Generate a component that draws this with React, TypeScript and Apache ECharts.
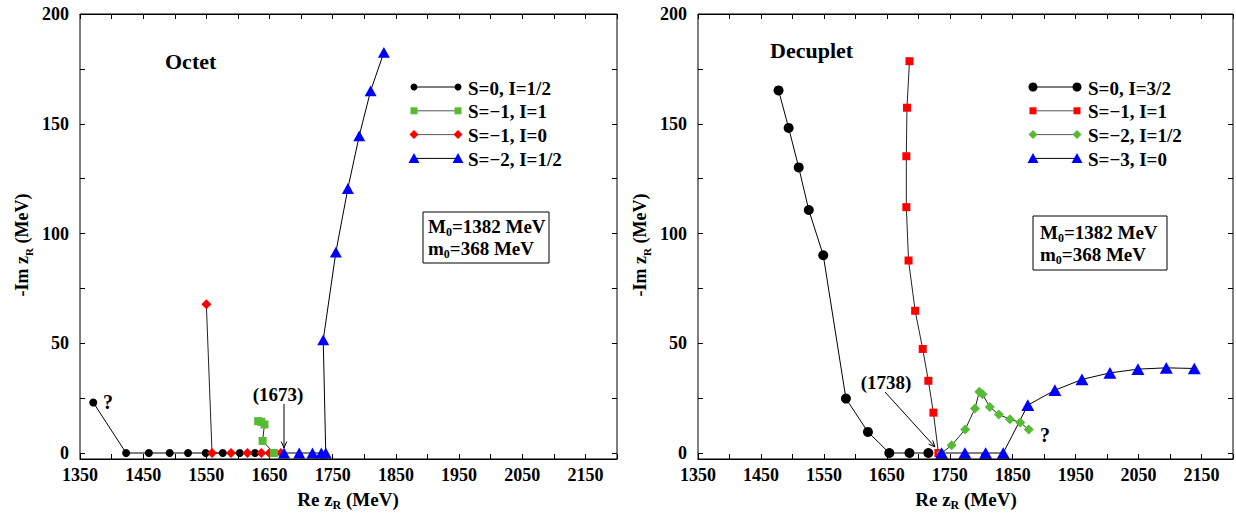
import React, { useEffect, useRef } from "react";
import * as echarts from "echarts";

const FONT = '"Liberation Serif", "Times New Roman", Times, serif';
const GREEN = "#55bb33";
const RED = "#ff0000";
const BLUE = "#0000ff";

const X_MIN = 1350;
const X_MAX = 2200;
const Y_MIN = 0;
const Y_MAX = 200;

// ---- Octet (left) ----
const octLabels = ["S=0, I=1/2", "S=\u22121, I=1", "S=\u22121, I=0", "S=\u22122, I=1/2"];
const octS0I12 = [[1371, 23], [1423, 0], [1459, 0], [1492, 0], [1521, 0], [1549, 0], [1576, 0], [1603, 0], [1627, 0]];
const octSm1I1 = [[1632, 14.5], [1637, 14.2], [1642, 13], [1639, 5.5], [1657, 0]];
const octSm1I0 = [[1550, 67.8], [1559, 0], [1589, 0], [1615, 0], [1637, 0], [1650, 0], [1668, 0]];
const octSm2I12 = [[1673, 0], [1697, 0], [1718, 0], [1732, 0], [1739, 0], [1735, 51.5], [1755, 91.5], [1774, 120.5], [1792, 144.5], [1810, 165], [1831, 182.5]];

// ---- Decuplet (right) ----
const decLabels = ["S=0, I=3/2", "S=\u22121, I=1", "S=\u22122, I=1/2", "S=\u22123, I=0"];
const decS0I32 = [[1478, 165.2], [1494, 148.1], [1510, 130.1], [1526, 110.7], [1549, 90.1], [1585, 24.8], [1620, 9.6], [1654, 0], [1686, 0], [1716, 0]];
const decSm1I1 = [[1686, 178.5], [1682, 157.3], [1681, 135.2], [1681, 112], [1684.5, 87.7], [1695, 64.8], [1707, 47.4], [1716, 32.9], [1724, 18.4], [1732, 0]];
const decSm2I12 = [[1737, 0], [1753, 3.5], [1774.5, 10.7], [1790, 20.3], [1797, 27.9], [1802, 26.8], [1813.5, 21], [1828, 17.5], [1845.5, 15.4], [1862, 13.9], [1875.5, 10.7]];
const decSm3I0 = [[1737, 0], [1774, 0], [1807, 0], [1835, 0], [1874, 21.8], [1917, 28.6], [1960, 33.5], [2004.5, 36.5], [2049, 38.2], [2094, 38.8], [2138.5, 38.5]];

type Spec = { name: string; data: number[][]; symbol: string; size: number; color: string; lineColor: string };

const octSpecs: Spec[] = [
  { name: octLabels[0], data: octS0I12, symbol: "circle", size: 8, color: "#000", lineColor: "#000" },
  { name: octLabels[2], data: octSm1I0, symbol: "diamond", size: 10, color: RED, lineColor: "#222" },
  { name: octLabels[1], data: octSm1I1, symbol: "rect", size: 8, color: GREEN, lineColor: "#222" },
  { name: octLabels[3], data: octSm2I12, symbol: "triangle", size: 12, color: BLUE, lineColor: "#000" },
];
const octLegendOrder = [0, 2, 1, 3];

const decSpecs: Spec[] = [
  { name: decLabels[0], data: decS0I32, symbol: "circle", size: 10, color: "#000", lineColor: "#000" },
  { name: decLabels[1], data: decSm1I1, symbol: "rect", size: 8, color: RED, lineColor: "#222" },
  { name: decLabels[2], data: decSm2I12, symbol: "diamond", size: 10, color: GREEN, lineColor: "#222" },
  { name: decLabels[3], data: decSm3I0, symbol: "triangle", size: 13, color: BLUE, lineColor: "#000" },
];
const decLegendOrder = [0, 1, 2, 3];

const GRID_TOP = 14;
const GRID_H = 439;
const AXIS_OFFSET = 6;
const GRIDS = [
  { left: 80, width: 537 },
  { left: 698, width: 535 },
];

function marker(kind: string, cx: number, cy: number, s: number, color: string): any {
  const h = s / 2;
  if (kind === "circle") return { type: "circle", shape: { cx, cy, r: h }, style: { fill: color } };
  if (kind === "rect") return { type: "rect", shape: { x: cx - h, y: cy - h, width: s, height: s }, style: { fill: color } };
  if (kind === "diamond")
    return { type: "polygon", shape: { points: [[cx, cy - h], [cx + h, cy], [cx, cy + h], [cx - h, cy]] }, style: { fill: color } };
  return { type: "polygon", shape: { points: [[cx, cy - h], [cx + h, cy + h * 0.85], [cx - h, cy + h * 0.85]] }, style: { fill: color } };
}

function arrow(x1: number, y1: number, x2: number, y2: number): any[] {
  const ang = Math.atan2(y2 - y1, x2 - x1);
  const L = 7;
  const a = 0.4;
  const p1 = [x2 - L * Math.cos(ang - a), y2 - L * Math.sin(ang - a)];
  const p2 = [x2 - L * Math.cos(ang + a), y2 - L * Math.sin(ang + a)];
  return [
    { type: "line", shape: { x1, y1, x2, y2 }, style: { stroke: "#000", lineWidth: 1 } },
    { type: "polyline", shape: { points: [p1, [x2, y2], p2] }, style: { stroke: "#000", lineWidth: 1, fill: null } },
  ];
}

function txt(x: number, y: number, text: string, size: number, align = "left", extra: any = {}): any {
  return {
    type: "text",
    x,
    y,
    style: { text, fontFamily: FONT, fontWeight: "bold", fontSize: size, fill: "#000", align, verticalAlign: "middle" },
    ...extra,
  };
}

function richTxt(x: number, y: number, text: string, size: number, align = "left", rotation = 0): any {
  return {
    type: "text",
    x,
    y,
    rotation,
    style: {
      text,
      fontFamily: FONT,
      fontWeight: "bold",
      fontSize: size,
      fill: "#000",
      align,
      verticalAlign: "middle",
      rich: {
        a: { fontFamily: FONT, fontWeight: "bold", fontSize: size, lineHeight: 24, verticalAlign: "middle" },
        s: { fontFamily: FONT, fontWeight: "bold", fontSize: Math.round(size * 0.62), lineHeight: 10, verticalAlign: "bottom" },
      },
    },
  };
}

function legend(specs: Spec[], order: number[], x1: number, x2: number, tx: number, y0: number): any[] {
  const out: any[] = [];
  order.forEach((idx, i) => {
    const s = specs[idx];
    const y = y0 + i * 23.8;
    out.push({ type: "line", shape: { x1, y1: y, x2, y2: y }, style: { stroke: s.lineColor === "#000" ? "#000" : "#555", lineWidth: 1 } });
    out.push(marker(s.symbol, x1, y, s.symbol === "triangle" ? 11 : s.size - 1, s.color));
    out.push(marker(s.symbol, x2, y, s.symbol === "triangle" ? 11 : s.size - 1, s.color));
    out.push(txt(tx, y + 1, s.name, 19));
  });
  return out;
}

export default function App() {
  const ref = useRef<HTMLDivElement>(null);
  useEffect(() => {
    if (!ref.current) return;
    const chart = echarts.init(ref.current, null, { renderer: "svg" });

    const grid = GRIDS.map((g) => ({ left: g.left, top: GRID_TOP, width: g.width, height: GRID_H, containLabel: false, outerBoundsMode: "none" }));

    const tickStyle = { show: true, inside: true, length: 5, lineStyle: { color: "#000", width: 1 } };
    const labelBase = { fontFamily: FONT, fontWeight: "bold", fontSize: 18, color: "#000" };

    const xAxis: any[] = [];
    const yAxis: any[] = [];
    GRIDS.forEach((_, gi) => {
      xAxis.push({
        type: "value", gridIndex: gi, position: "bottom", offset: AXIS_OFFSET, min: X_MIN, max: X_MAX, interval: 50,
        axisLine: { show: true, onZero: false, lineStyle: { color: "#000", width: 1 } },
        axisTick: tickStyle, splitLine: { show: false },
        axisLabel: { ...labelBase, margin: 7, formatter: (v: number) => ((v - X_MIN) % 100 === 0 ? String(v) : "") },
      });
      xAxis.push({
        type: "value", gridIndex: gi, position: "top", min: X_MIN, max: X_MAX, interval: 50,
        axisLine: { show: true, onZero: false, lineStyle: { color: "#000", width: 1 } },
        axisTick: tickStyle, splitLine: { show: false }, axisLabel: { show: false },
      });
      yAxis.push({
        type: "value", gridIndex: gi, position: "left", min: Y_MIN, max: Y_MAX, interval: 25,
        axisLine: { show: false }, axisTick: tickStyle, splitLine: { show: false },
        axisLabel: { ...labelBase, margin: 11, formatter: (v: number) => (v % 50 === 0 ? String(v) : "") },
      });
      yAxis.push({
        type: "value", gridIndex: gi, position: "right", min: Y_MIN, max: Y_MAX, interval: 25,
        axisLine: { show: false }, axisTick: tickStyle, splitLine: { show: false }, axisLabel: { show: false },
      });
    });

    const mkSeries = (specs: Spec[], gi: number) =>
      specs.map((s) => ({
        type: "line",
        name: s.name,
        xAxisIndex: gi * 2,
        yAxisIndex: gi * 2,
        data: s.data,
        symbol: s.symbol,
        symbolSize: s.symbol === "triangle" ? [s.size, s.size * 0.9] : s.size,
        showAllSymbol: true,
        clip: false,
        itemStyle: { color: s.color },
        lineStyle: { color: s.lineColor, width: 1 },
        emphasis: { disabled: true },
      }));

    const series = [...mkSeries(octSpecs, 0), ...mkSeries(decSpecs, 1)];

    const frameBottom = GRID_TOP + GRID_H + AXIS_OFFSET;
    const graphic: any[] = [];
    GRIDS.forEach((g) => {
      graphic.push({
        type: "rect",
        shape: { x: g.left, y: GRID_TOP, width: g.width, height: frameBottom - GRID_TOP },
        style: { fill: null, stroke: "#000", lineWidth: 1 },
        z: 10,
      });
    });

    // axis names
    graphic.push(richTxt(22, 245, "{a|-Im z}{s|R}{a| (MeV)}", 18, "center", Math.PI / 2));
    graphic.push(richTxt(640, 245, "{a|-Im z}{s|R}{a| (MeV)}", 18, "center", Math.PI / 2));
    graphic.push(richTxt(348, 499, "{a|Re z}{s|R}{a| (MeV)}", 19, "center"));
    graphic.push(richTxt(966, 499, "{a|Re z}{s|R}{a| (MeV)}", 19, "center"));

    // titles
    graphic.push(txt(165, 61, "Octet", 22));
    graphic.push(txt(770, 50, "Decuplet", 22));

    // legends
    graphic.push(...legend(octSpecs, octLegendOrder, 414, 458, 468, 87));
    graphic.push(...legend(decSpecs, decLegendOrder, 1033, 1077, 1088, 87));

    // parameter boxes
    graphic.push({ type: "rect", shape: { x: 423, y: 212, width: 126, height: 51 }, style: { fill: "#fff", stroke: "#000", lineWidth: 1 } });
    graphic.push(richTxt(428, 226, "{a|M}{s|0}{a|=1382 MeV}", 19));
    graphic.push(richTxt(428, 248, "{a|m}{s|0}{a|=368 MeV}", 19));
    graphic.push({ type: "rect", shape: { x: 1033, y: 216, width: 134, height: 54 }, style: { fill: "#fff", stroke: "#000", lineWidth: 1 } });
    graphic.push(richTxt(1040, 232, "{a|M}{s|0}{a|=1382 MeV}", 19));
    graphic.push(richTxt(1040, 254, "{a|m}{s|0}{a|=368 MeV}", 19));

    // annotations
    graphic.push(txt(103, 402, "?", 20));
    graphic.push(txt(278, 394, "(1673)", 19, "center"));
    graphic.push(...arrow(284, 404, 284, 448));
    graphic.push(txt(886, 382, "(1738)", 19, "center"));
    graphic.push(...arrow(885, 392, 935, 447));
    graphic.push(txt(1040, 435, "?", 20));

    chart.setOption({
      animation: false,
      backgroundColor: "#fff",
      grid,
      xAxis,
      yAxis,
      series,
      graphic,
    });
    return () => chart.dispose();
  }, []);
  return <div ref={ref} style={{ position: "fixed", left: 0, top: 0, width: 1236, height: 514 }} />;
}
